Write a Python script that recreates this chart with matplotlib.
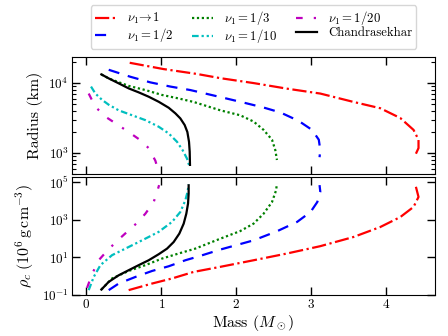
import matplotlib
matplotlib.use("Agg")
import matplotlib.pyplot as plt
import numpy as np

plt.rcParams['font.family'] = 'serif'
plt.rcParams['font.serif'] = ['cmr10']
plt.rcParams['mathtext.fontset'] = 'cm'
plt.rcParams['axes.formatter.use_mathtext'] = True
plt.rcParams['axes.unicode_minus'] = False

# mass-radius (top) and mass-central density (bottom), log10 values
# nu1 -> 1
m_r1 = [0.578, 1.03, 1.476, 1.787, 2.23, 2.676, 3.12, 3.564, 3.92, 4.187, 4.364, 4.43, 4.43, 4.387]
lr_1 = [4.29, 4.20, 4.13, 4.07, 4.00, 3.92, 3.85, 3.73, 3.64, 3.50, 3.33, 3.19, 3.07, 2.97]
m_d1 = [0.564, 0.876, 1.142, 1.431, 1.787, 2.23, 2.676, 3.12, 3.564, 3.92, 4.187, 4.364, 4.43, 4.387]
ld_1 = [-0.74, -0.39, -0.12, 0.23, 0.50, 0.85, 1.21, 1.60, 2.09, 2.62, 3.15, 3.69, 4.22, 4.89]
# nu1 = 1/2
m_r2 = [0.298, 0.587, 0.853, 1.12, 1.387, 1.787, 2.1, 2.364, 2.587, 2.83, 3.01, 3.10, 3.12, 3.11]
lr_2 = [4.19, 4.09, 4.01, 3.95, 3.90, 3.80, 3.72, 3.65, 3.58, 3.46, 3.33, 3.19, 3.04, 2.94]
m_d2 = [0.298, 0.431, 0.653, 0.876, 1.098, 1.32, 1.5, 1.787, 2.23, 2.54, 2.81, 2.99, 3.08, 3.12, 3.11]
ld_2 = [-0.74, -0.39, -0.04, 0.28, 0.53, 0.85, 1.06, 1.42, 1.91, 2.39, 2.89, 3.42, 3.95, 4.5, 4.85]
# nu1 = 1/3
m_r3 = [0.20, 0.298, 0.387, 0.564, 0.787, 1.009, 1.231, 1.431, 1.787, 2.05, 2.23, 2.364, 2.476, 2.52, 2.542]
lr_3 = [4.124, 4.067, 4.03, 3.96, 3.90, 3.83, 3.78, 3.73, 3.61, 3.54, 3.45, 3.33, 3.19, 3.04, 2.90]
m_d3 = [0.20, 0.298, 0.342, 0.564, 0.787, 1.009, 1.231, 1.453, 1.787, 2.05, 2.23, 2.364, 2.476, 2.53, 2.542]
ld_3 = [-0.71, -0.30, -0.12, 0.28, 0.59, 0.94, 1.21, 1.47, 2.0, 2.40, 2.80, 3.33, 3.95, 4.57, 4.93]
# nu1 = 1/10
m_r10 = [0.062, 0.12, 0.209, 0.298, 0.431, 0.609, 0.787, 0.964, 1.098, 1.209, 1.284, 1.342, 1.378]
lr_10 = [3.95, 3.85, 3.76, 3.69, 3.61, 3.54, 3.47, 3.376, 3.28, 3.16, 3.04, 2.92, 2.80]
m_d10 = [0.031, 0.098, 0.187, 0.342, 0.52, 0.742, 0.964, 1.142, 1.253, 1.32, 1.35, 1.364]
ld_10 = [-0.74, -0.04, 0.59, 1.12, 1.47, 1.91, 2.36, 2.89, 3.42, 4.04, 4.5, 4.88]
# nu1 = 1/20
m_r20 = [0.031, 0.12, 0.253, 0.409, 0.564, 0.698, 0.831, 0.92, 0.964, 0.98]
lr_20 = [3.85, 3.66, 3.52, 3.41, 3.30, 3.20, 3.07, 2.89, 2.73, 2.55]
m_d20 = [0.009, 0.076, 0.164, 0.276, 0.409, 0.542, 0.676, 0.787, 0.898, 0.956, 0.97]
ld_20 = [-0.62, 0.11, 0.85, 1.35, 1.88, 2.36, 2.84, 3.33, 3.95, 4.66, 4.85]
# Chandrasekhar
m_rch = [0.20, 0.298, 0.431, 0.564, 0.698, 0.831, 0.964, 1.098, 1.187, 1.253, 1.311, 1.347, 1.369, 1.378, 1.382]
lr_ch = [4.124, 4.067, 3.996, 3.924, 3.867, 3.805, 3.733, 3.647, 3.567, 3.495, 3.40, 3.30, 3.16, 3.02, 2.83]
m_dch = [0.20, 0.298, 0.431, 0.564, 0.698, 0.831, 0.964, 1.076, 1.164, 1.24, 1.298, 1.333, 1.356, 1.364, 1.364]
ld_ch = [-0.71, -0.30, 0.05, 0.32, 0.59, 0.85, 1.17, 1.47, 1.82, 2.27, 2.80, 3.33, 3.87, 4.40, 4.84]

labels = [r'$\nu_1\!\rightarrow\!1$', r'$\nu_1=1/2$', r'$\nu_1=1/3$',
          r'$\nu_1=1/10$', r'$\nu_1=1/20$', 'Chandrasekhar']
colors = ['r', 'b', 'g', 'c', 'm', 'k']
styles = [(0, (6.4, 1.6, 1, 1.6)), (0, (5, 4)), (0, (1, 1.2)),
          (0, (3, 1.3, 1, 1.3, 1, 1.3)), (0, (3, 5, 1, 5)), '-']

curves_r = [(m_r1, lr_1), (m_r2, lr_2), (m_r3, lr_3), (m_r10, lr_10), (m_r20, lr_20), (m_rch, lr_ch)]
curves_d = [(m_d1, ld_1), (m_d2, ld_2), (m_d3, ld_3), (m_d10, ld_10), (m_d20, ld_20), (m_dch, ld_ch)]

fig = plt.figure(figsize=(4.48, 3.36), dpi=100)
ax1 = fig.add_axes([0.161, 0.482, 0.810, 0.348])
ax2 = fig.add_axes([0.161, 0.122, 0.810, 0.351])

for (m, lr), (md, ld), lab, c, ls in zip(curves_r, curves_d, labels, colors, styles):
    ax1.plot(m, 10**np.array(lr), color=c, ls=ls, lw=1.6, label=lab)
    ax2.plot(md, 10**np.array(ld), color=c, ls=ls, lw=1.6)

for ax in (ax1, ax2):
    ax.set_yscale('log')
    ax.set_xlim(-0.19, 4.65)
    ax.set_xticks([0, 1, 2, 3, 4])
    ax.tick_params(which='both', direction='in', top=True, right=True, labelsize=9.5, pad=2.5)
    ax.tick_params(which='major', length=6, width=1)
    ax.tick_params(which='minor', length=3, width=0.8)

ax1.set_ylim(500, 23500)
ax1.tick_params(labelbottom=False)
ax1.set_ylabel('Radius (km)', fontsize=11.5)

ax2.set_ylim(0.1, 1.9e5)
ax2.set_yticks([0.1, 10, 1e3, 1e5])
ax2.yaxis.set_minor_locator(matplotlib.ticker.NullLocator())
ax2.set_ylabel(r'$\rho_c\ (10^6\,{\rm g\,cm^{-3}})$', fontsize=11.5)
ax2.set_xlabel(r'Mass ($M_\odot$)', fontsize=11.5, labelpad=1)

ax1.legend(loc='lower center', bbox_to_anchor=(0.5, 1.07), ncol=3, fontsize=9.2,
           borderaxespad=0, columnspacing=1.5, handlelength=1.6, handletextpad=0.9,
           labelspacing=0.0, borderpad=0.3)

fig.savefig('out.png', dpi=100)
